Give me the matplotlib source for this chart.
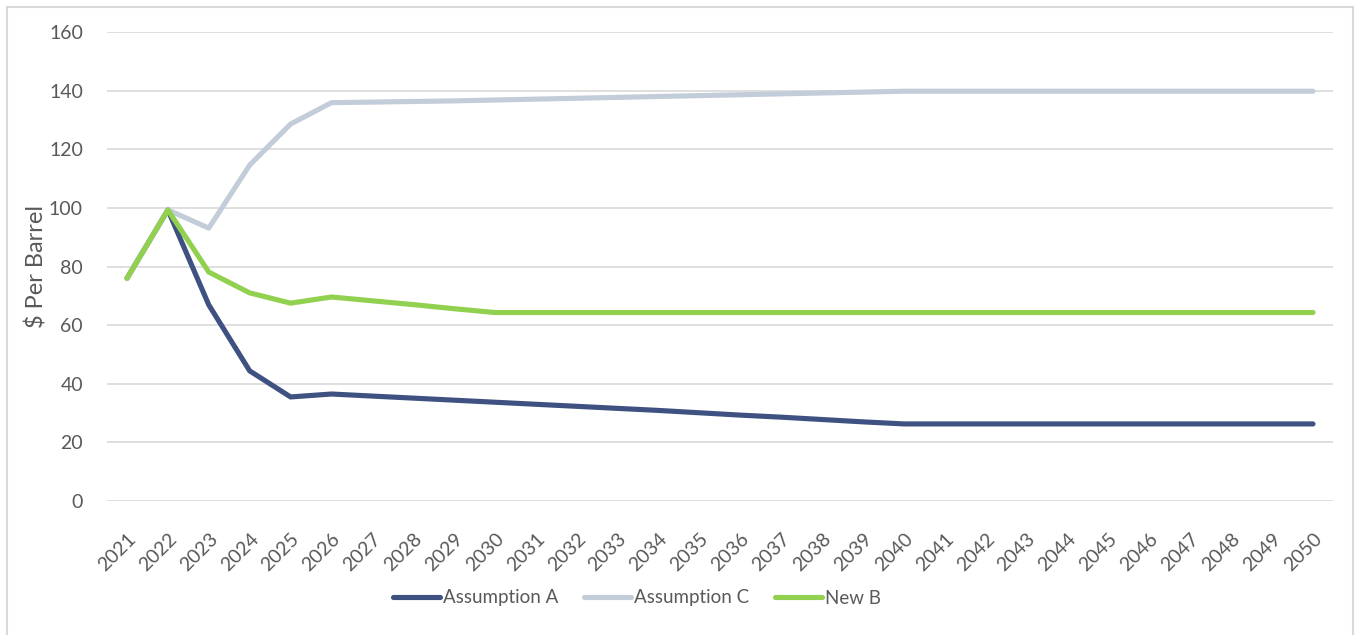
import numpy as np
import matplotlib.pyplot as plt
from matplotlib.patches import Rectangle

# oil price paths, $ per barrel
years = list(range(2021, 2051))
assumption_a = [76.0, 99.3, 66.9, 44.4, 35.5, 36.5, 35.8, 35.1, 34.4, 33.7,
                33.0, 32.3, 31.6, 30.9, 30.1, 29.3, 28.6, 27.8, 27.0, 26.3,
                26.3, 26.3, 26.3, 26.3, 26.3, 26.3, 26.3, 26.3, 26.3, 26.3]
assumption_c = [76.0, 99.3, 93.1, 114.6, 128.6, 135.9, 136.1, 136.3, 136.5, 136.8,
                137.1, 137.4, 137.7, 138.0, 138.3, 138.6, 138.9, 139.2, 139.5, 139.8,
                139.8, 139.8, 139.8, 139.8, 139.8, 139.8, 139.8, 139.8, 139.8, 139.8]
new_b = [76.0, 99.3, 78.1, 71.0, 67.5, 69.6, 68.3, 67.0, 65.6, 64.3,
         64.3, 64.3, 64.3, 64.3, 64.3, 64.3, 64.3, 64.3, 64.3, 64.3,
         64.3, 64.3, 64.3, 64.3, 64.3, 64.3, 64.3, 64.3, 64.3, 64.3]

series = [("Assumption A", assumption_a, "#3E5181"),
          ("Assumption C", assumption_c, "#C3CCD9"),
          ("New B", new_b, "#92D050")]

plt.rcParams['font.family'] = ['Lato', 'DejaVu Sans']
text_color = "#595959"
fs = 14

fig = plt.figure(figsize=(13.59, 6.35), dpi=100)
ax = fig.add_axes([0.0784, 0.2110, 0.9028, 0.7386])

x = np.arange(len(years))
for name, vals, col in series:
    ax.plot(x, vals, color=col, lw=3.7, label=name, solid_capstyle='round', solid_joinstyle='round')

ax.set_xlim(-0.5, len(years) - 0.5)
ax.set_ylim(0, 160)
ax.set_yticks(np.arange(0, 161, 20))
ax.grid(axis='y', color="#D9D9D9", lw=1.2)
ax.set_axisbelow(True)
for s in ax.spines.values():
    s.set_visible(False)

ax.set_xticks(x)
ax.set_xticklabels([str(y) for y in years], rotation=45, ha='right', rotation_mode='anchor')
ax.tick_params(axis='both', length=0, colors=text_color, labelsize=fs)
ax.tick_params(axis='y', pad=17)
ax.tick_params(axis='x', pad=21)
ax.set_ylabel("$ Per Barrel", color=text_color, fontsize=17, labelpad=1)

leg = fig.legend(loc='center', bbox_to_anchor=(637 / 1359, 1 - 598 / 635), ncol=3, frameon=False,
                 fontsize=13.5, handlelength=2.5, handletextpad=0.15, columnspacing=1.4)
for t in leg.get_texts():
    t.set_color(text_color)

# light frame around the whole chart
fig.patches.append(Rectangle((7 / 1359, -0.01), 1346 / 1359, 1 - 7 / 635 + 0.01,
                             transform=fig.transFigure, fill=False,
                             edgecolor="#D9D9D9", lw=1.5))

fig.savefig("out.png", dpi=100)
